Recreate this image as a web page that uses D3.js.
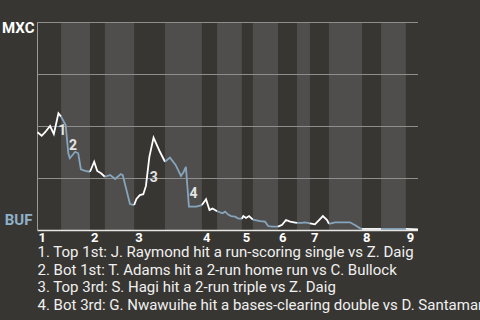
<!DOCTYPE html>
<html>
<head>
<meta charset="utf-8">
<script src="https://cdn.jsdelivr.net/npm/d3@7"></script>
<style>
  html, body { margin: 0; padding: 0; background: #383632; overflow: hidden; }
  text { font-family: Roboto, "Noto Sans", sans-serif; }
</style>
</head>
<body>
<div id="chart"></div>
<script>
// game progress (play units 0..100) and MXC win probability (%)
const playX = [0, 1.1, 2.0, 3.3, 4.3, 5.5, 6.2, 7.4, 8.1, 8.5, 9.9, 10.7, 11.4, 12.5, 13.8,
  14.9, 15.7, 16.7, 17.7, 19.1, 20.4, 21.9, 22.4, 24.3, 25.4, 26.0, 26.9, 27.8, 28.5, 29.4,
  30.5, 32.2, 33.5, 34.8, 36.3, 37.7, 38.4, 39.0, 39.8, 41.7, 43.2, 44.3, 45.2, 46.0, 47.2,
  48.6, 49.3, 50.1, 50.9, 51.9, 52.7, 53.7, 54.1, 54.8, 55.6, 56.6, 58.5, 59.8, 60.6, 61.6,
  63.2, 64.3, 65.3, 66.4, 67.4, 68.2, 69.4, 70.3, 71.6, 72.9, 74.0, 75.0, 76.1, 76.6, 78.2,
  82.1, 83.4, 84.8, 85.3, 90.3, 96.8, 100]
const winProb = [47, 45.3, 47, 50, 46.2, 56.1, 54.5, 50.5, 36.9, 34.5, 37.6, 36.9, 29.2, 28.4, 28,
  32.8, 28.4, 27.3, 25.6, 26.4, 24.5, 26.9, 26.4, 12.5, 12, 14.9, 16.8, 17.2, 21.2, 35.2,
  44.4, 37.5, 32.8, 34.8, 31.3, 26, 27.9, 30.4, 11.2, 11.2, 12, 14.8, 9.6, 10.3, 9.0,
  8.0, 8.8, 7.4, 6.7, 6.4, 5.6, 5.4, 6.7, 5.8, 6.7, 5.0, 4.3, 4.0, 1.9, 1.6,
  1.6, 2.5, 4.8, 4.0, 3.7, 3.4, 3.4, 3.7, 3.2, 2.7, 4.8, 6.7, 4.8, 2.9, 3.7,
  3.7, 2.4, 0.8, 0.5, 0.5, 0.5, 0.3]

// half-inning starts (top, bottom, top, ...) and game end
const halfStarts = [0, 6.2, 13.8, 17.7, 25.4, 33.5, 43.2, 47.2, 53.7, 56.6, 63.2, 68.2,
  71.6, 76.6, 85.3, 90.3, 96.8]
const gameEnd = 100
const inningLabels = ["1", "2", "3", "4", "5", "6", "7", "8", "9"]

const teams = ["MXC", "BUF"]
const yTicks = [0, 25, 50, 75, 100]

// key plays: index into the series, and the caption
const eventIndex = [5, 8, 29, 38]
const eventText = [
  "1. Top 1st: J. Raymond hit a run-scoring single vs Z. Daig",
  "2. Bot 1st: T. Adams hit a 2-run home run vs C. Bullock",
  "3. Top 3rd: S. Hagi hit a 2-run triple vs Z. Daig",
  "4. Bot 3rd: G. Nwawuihe hit a bases-clearing double vs D. Santamaria"
]

const width = 480
const height = 320
const margin = {top: 22, right: 62, bottom: 90, left: 37.5}

const topColor = "#ffffff"
const botColor = "#86a5bd"

const svg = d3.select("#chart").append("svg")
  .attr("width", width)
  .attr("height", height)

const x = d3.scaleLinear().domain([0, gameEnd]).range([margin.left, width - margin.right])
const y = d3.scaleLinear().domain([0, 100]).range([height - margin.bottom, margin.top])

const halves = halfStarts.map((s, i) => ({
  start: s,
  end: i < halfStarts.length - 1 ? halfStarts[i + 1] : gameEnd,
  top: i % 2 === 0
}))

// bottom half-inning bands
svg.append("g").selectAll("rect")
  .data(halves.filter(d => !d.top))
  .join("rect")
  .attr("x", d => x(d.start))
  .attr("width", d => x(d.end) - x(d.start))
  .attr("y", y(100))
  .attr("height", y(0) - y(100))
  .attr("fill", "#4f4e4c")

// grid lines
svg.append("g").selectAll("line")
  .data(yTicks.filter(t => t > 0))
  .join("line")
  .attr("x1", x(0))
  .attr("x2", x(gameEnd))
  .attr("y1", d => Math.round(y(d)) + 0.5)
  .attr("y2", d => Math.round(y(d)) + 0.5)
  .attr("stroke", "#8e8e8c")
  .attr("stroke-width", 1)

// left axis line
svg.append("line")
  .attr("x1", x(0)).attr("x2", x(0))
  .attr("y1", y(100)).attr("y2", y(0))
  .attr("stroke", "#9a9a98")

// win probability line, coloured by half-inning
const points = playX.map((px, i) => ({x: px, wp: winProb[i]}))
const line = d3.line().x(d => x(d.x)).y(d => y(d.wp))

svg.append("g").selectAll("path")
  .data(halves)
  .join("path")
  .attr("d", h => line(points.filter(p => p.x >= h.start && p.x <= h.end)))
  .attr("fill", "none")
  .attr("stroke", h => h.top ? topColor : botColor)
  .attr("stroke-width", 1.8)

// bottom axis line
svg.append("line")
  .attr("x1", x(0)).attr("x2", x(gameEnd))
  .attr("y1", y(0) + 0.5).attr("y2", y(0) + 0.5)
  .attr("stroke", "#e6e6e4")
  .attr("stroke-width", 1.5)

// team labels
svg.append("text")
  .attr("x", margin.left - 3).attr("y", y(100) + 11)
  .attr("text-anchor", "end")
  .attr("font-size", 15).attr("font-weight", "bold")
  .attr("fill", "#ffffff")
  .text(teams[0])

svg.append("text")
  .attr("x", margin.left - 5).attr("y", y(0) - 5)
  .attr("text-anchor", "end")
  .attr("font-size", 15).attr("font-weight", "bold")
  .attr("fill", "#8fb0c9")
  .text(teams[1])

// inning numbers at the start of each top half
svg.append("g").selectAll("text")
  .data(halves.filter(d => d.top))
  .join("text")
  .attr("x", d => x(d.start) + 1)
  .attr("y", y(0) + 12)
  .attr("font-size", 13).attr("font-weight", "bold")
  .attr("fill", "#ffffff")
  .text((d, i) => inningLabels[i])

// event markers at the middle of the play's segment
svg.append("g").selectAll("text")
  .data(eventIndex)
  .join("text")
  .attr("x", i => (x(playX[i - 1]) + x(playX[i])) / 2 + 2)
  .attr("y", i => (y(winProb[i - 1]) + y(winProb[i])) / 2 + 11)
  .attr("font-size", 14).attr("font-weight", "bold")
  .attr("fill", "#e4e4e4")
  .text((d, i) => i + 1)

// captions
svg.append("g").selectAll("text")
  .data(eventText)
  .join("text")
  .attr("x", margin.left)
  .attr("y", (d, i) => 257 + i * 17.7)
  .attr("font-size", 15)
  .attr("fill", "#f0f0f0")
  .text(d => d)
</script>
</body>
</html>
